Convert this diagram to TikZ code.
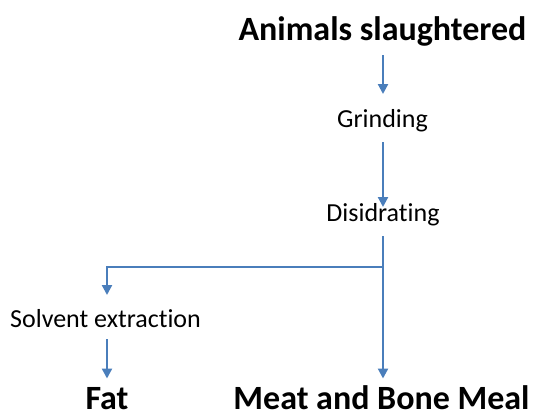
\documentclass[tikz,border=0pt]{standalone}
\usepackage{fontspec}
\setmainfont{Carlito}[Ligatures=CommonOff]
\usetikzlibrary{arrows.meta,calc}
\definecolor{flow}{HTML}{4A7EBB}
\begin{document}
\begin{tikzpicture}[x=1pt,y=-1pt,
  lab/.style={anchor=base,inner sep=0pt,font=\fontsize{26}{30}\selectfont},
  big/.style={anchor=base,inner sep=0pt,font=\bfseries\fontsize{34}{40}\selectfont},
  arr/.style={draw=flow,line width=2.2pt,-{Triangle[length=10pt,width=10pt]}},
  ln/.style={draw=flow,line width=2.2pt}]
\useasboundingbox (0,0) rectangle (534,418);
\node[big] (animals) at (382.5,40) {Animals slaughtered};
\node[lab] (grinding) at (382.5,127) {Grinding};
\node[lab] (disid) at (383,221) {Disidrating};
\node[lab] (solvent) at (105.5,327) {Solvent extraction};
\node[big] (fat) at (107,409.5) {Fat};
\node[big] (meat) at (381.5,409.5) {Meat and Bone Meal};
\coordinate (j) at (383,267);
\coordinate (jl) at (107,267);
\draw[arr] ($(animals.base -| j)+(0,15)$) -- ($(grinding.base -| j)+(0,-33)$);
\draw[arr] ($(grinding.base -| j)+(0,15)$) -- ($(disid.base -| j)+(0,-14)$);
\draw[arr] ($(disid.base -| j)+(0,15)$) -- (j) -- ($(meat.base -| j)+(0,-31)$);
\draw[arr] (j) -- (jl) -- ($(solvent.base -| jl)+(0,-32)$);
\draw[arr] ($(solvent.base -| jl)+(0,12)$) -- ($(fat.base -| jl)+(0,-31)$);
\end{tikzpicture}
\end{document}
